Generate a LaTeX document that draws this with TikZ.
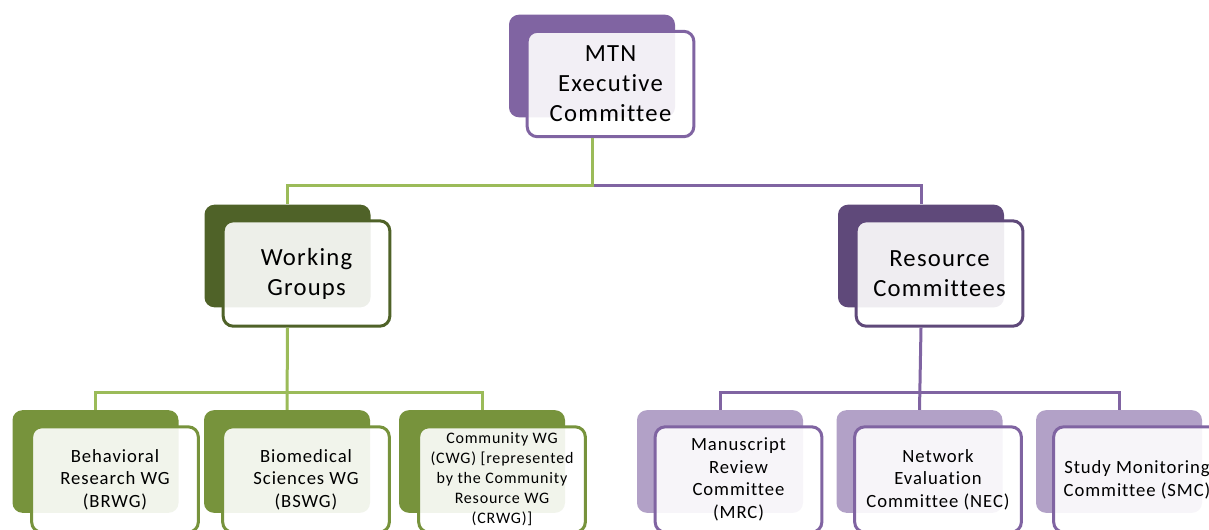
\documentclass[tikz,border=0pt]{standalone}
\usepackage{fontspec}
\setmainfont{Carlito}[Ligatures=NoCommon, LetterSpace=5]
\definecolor{mtnPurple}{HTML}{8064A2}
\definecolor{mtnPurpleDk}{HTML}{5F497A}
\definecolor{mtnPurpleLt}{HTML}{B2A1C7}
\definecolor{mtnGreen}{HTML}{77933C}
\definecolor{mtnGreenDk}{HTML}{4F6228}
\definecolor{mtnGreenLt}{HTML}{9BBB59}
\tikzset{
  % solid tab behind each box
  backbox/.style  = {rounded corners=7.5pt, minimum width=124.5pt, minimum height=77pt,
                     inner sep=0pt, fill=#1},
  % outlined box holding the text, slightly see-through
  frontbox/.style = {rounded corners=7.5pt, minimum width=125pt, minimum height=79pt,
                     inner sep=0pt, draw=#1, line width=2.25pt, fill=white,
                     fill opacity=0.9, text opacity=1, align=center},
  bigtxt/.style   = {font=\fontsize{18.5}{22.5}\selectfont},
  midtxt/.style   = {font=\fontsize{14}{17}\selectfont},
  smltxt/.style   = {font=\fontsize{12}{15}\selectfont},
  link/.style     = {draw=#1, line width=2.25pt},
}
\begin{document}
\begin{tikzpicture}[x=0.75pt, y=-0.75pt]
  \useasboundingbox (0,0) rectangle (1209,529);
  \clip (0,0) rectangle (1209,529);
  % top level
  \node[backbox=mtnPurple] (execb) at (592,66) {};
  \node[frontbox=mtnPurple, bigtxt] (exec) at (610.5,84) {MTN\\Executive\\Committee};
  % second level
  \node[backbox=mtnGreenDk] (wgb) at (287.5,256) {};
  \node[frontbox=mtnGreenDk, bigtxt] (wg) at (306.5,273.5) {Working\\Groups};
  \node[backbox=mtnPurpleDk] (rcb) at (921,256) {};
  \node[frontbox=mtnPurpleDk, bigtxt] (rc) at (939.5,273.5) {Resource\\Committees};
  % working groups
  \node[backbox=mtnGreen] (brb) at (95.5,461.5) {};
  \node[frontbox=mtnGreen, midtxt] (br) at (115,479.5) {Behavioral\\Research WG\\(BRWG)};
  \node[backbox=mtnGreen] (bsb) at (287,461.5) {};
  \node[frontbox=mtnGreen, midtxt] (bs) at (306,479.5) {Biomedical\\Sciences WG\\(BSWG)};
  \node[backbox=mtnGreen] (cwb) at (482,461.5) {};
  \node[frontbox=mtnGreen, smltxt] (cw) at (502,479.5)
    {Community WG\\(CWG) [represented\\by the Community\\Resource WG\\(CRWG)]};
  % resource committees
  \node[backbox=mtnPurpleLt] (mrb) at (720,461.5) {};
  \node[frontbox=mtnPurple, midtxt] (mr) at (738.5,479.5) {Manuscript\\Review\\Committee\\(MRC)};
  \node[backbox=mtnPurpleLt] (neb) at (919.5,461.5) {};
  \node[frontbox=mtnPurple, midtxt] (ne) at (938,479.5) {Network\\Evaluation\\Committee (NEC)};
  \node[backbox=mtnPurpleLt] (smb) at (1119,461.5) {};
  \node[frontbox=mtnPurple, midtxt] (sm) at (1137,479.5) {Study Monitoring\\Committee (SMC)};
  % connectors
  \coordinate (topbus) at (592,185);
  \coordinate (wgbus) at (287.5,392);
  \coordinate (rcbus) at (921,392);
  \draw[link=mtnPurple] (topbus) -| (rcb.north);
  \draw[link=mtnGreenLt] (execb |- exec.south) -- (topbus) -| (wgb.north);
  \draw[link=mtnGreenLt] (wgb |- wg.south) -- (bsb.north);
  \draw[link=mtnGreenLt] (brb.north) |- (wgbus) -| (cwb.north);
  \draw[link=mtnPurple] (rcb |- rc.south) -- (neb.north);
  \draw[link=mtnPurple] (mrb.north) |- (rcbus) -| (smb.north);
\end{tikzpicture}
\end{document}
